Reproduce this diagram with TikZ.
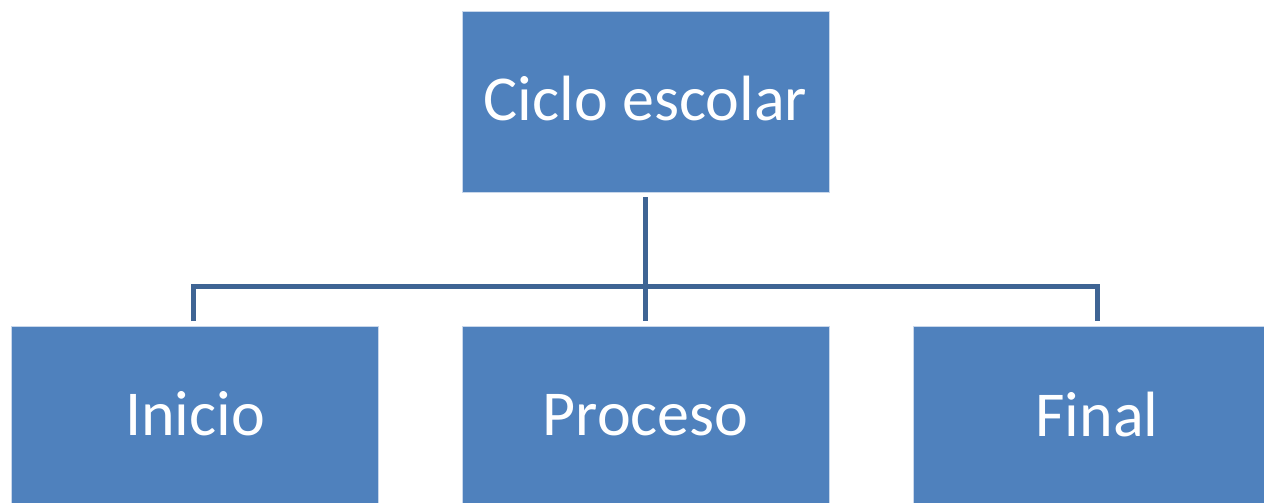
\documentclass[tikz,border=0pt]{standalone}
\usepackage{fontspec}
\setmainfont{Carlito}
\definecolor{boxfill}{RGB}{79,129,189}
\definecolor{boxline}{RGB}{200,215,235}
\definecolor{connline}{RGB}{62,100,148}
\begin{document}
\begin{tikzpicture}[x=0.5pt,y=-0.5pt,
  box/.style={draw=boxline, line width=0.5pt, fill=boxfill, inner sep=0pt},
  lbl/.style={text=white, font=\fontsize{32pt}{36pt}\selectfont, anchor=base, inner sep=0pt},
  conn/.style={draw=connline, line width=2.5pt, line cap=butt}]
\useasboundingbox (0,0) rectangle (1264,503);
\clip (0,0) rectangle (1264,503);
\fill[white] (0,0) rectangle (1264,503);
% boxes
\draw[box] (462,11) rectangle (829,192);
\draw[box] (11,326) rectangle (378,508);
\draw[box] (462,326) rectangle (829,508);
\draw[box] (913,326) rectangle (1281,508);
% labels
\node[lbl] (top) at (645.5,120) {Ciclo escolar};
\node[lbl] (ini) at (195,435) {Inicio};
\node[lbl] (pro) at (645.5,435) {Proceso};
\node[lbl] (fin) at (1097,436) {Final};
% connectors
\coordinate (tb) at (645,197);
\coordinate (hub) at (645,286);
\coordinate (lt) at (193,321);
\coordinate (mt) at (645,321);
\coordinate (rt) at (1097,321);
\draw[conn] (tb) -- (mt);
\draw[conn] (lt) |- (hub) -| (rt);
\end{tikzpicture}
\end{document}
